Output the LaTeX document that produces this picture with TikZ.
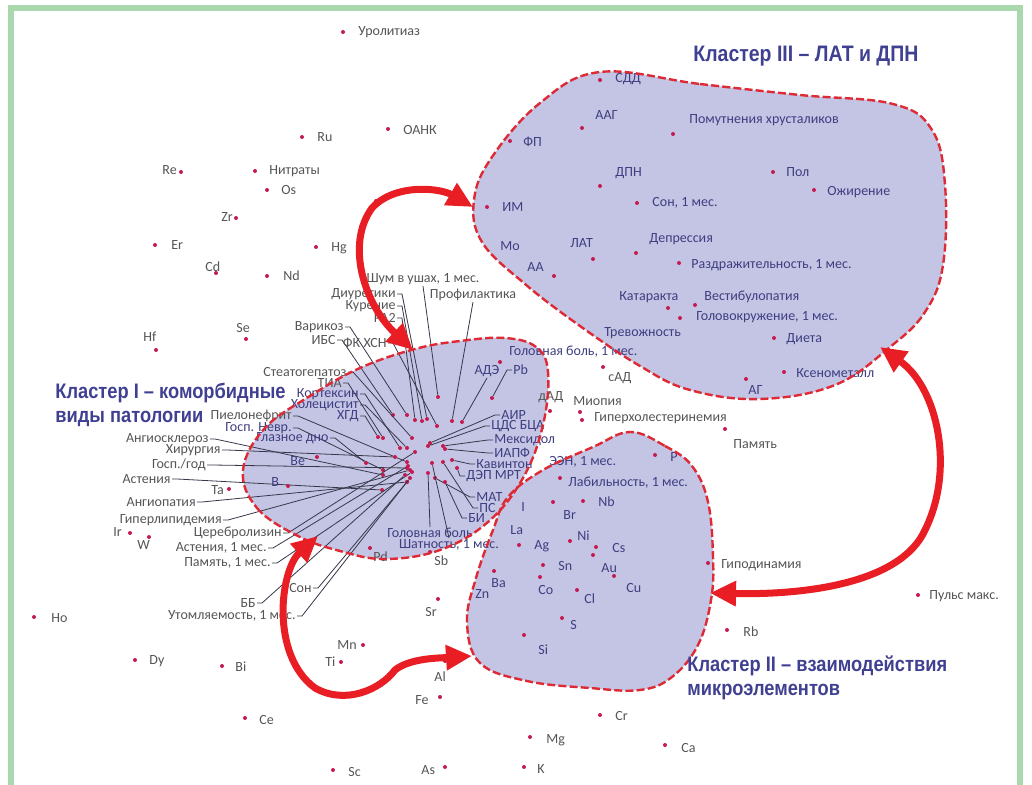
\documentclass[tikz,border=0pt]{standalone}
\usepackage{fontspec}
\setmainfont{Carlito}
\newfontfamily\clfont[FakeStretch=0.87]{Liberation Sans}
\usetikzlibrary{arrows.meta}
\definecolor{frx}{RGB}{168,216,172}
\definecolor{lvx}{RGB}{196,196,229}
\definecolor{brx}{RGB}{222,42,52}
\definecolor{rdx}{RGB}{232,30,36}
\definecolor{dtx}{RGB}{196,28,78}
\definecolor{gyx}{RGB}{85,85,85}
\definecolor{nvx}{RGB}{62,62,128}
\definecolor{ttx}{RGB}{64,64,146}
\definecolor{ldx}{RGB}{55,55,75}
\tikzset{
    pt/.style={circle,fill=dtx,inner sep=0pt,minimum size=2pt},
    lbl/.style={font=\fontsize{7}{8}\selectfont,inner sep=0.5pt,anchor=west},
    leader/.style={ldx,line width=0.4pt},
    blobfill/.style={fill=lvx},
    blobline/.style={brx,line width=1.2pt,dash pattern=on 4pt off 1.6pt},
    redarr/.style={rdx,line width=3.5pt,
        {Triangle[length=13pt,width=12pt]}-{Triangle[length=13pt,width=12pt]}},
    ttl/.style={anchor=north west,align=left,inner sep=0pt,text=ttx,
        font=\clfont\bfseries\fontsize{10.5}{12}\selectfont}
}
\newcommand\shpIII{plot[smooth cycle,tension=0.65] coordinates {(600,72) (700,84) (800,95) (893,104) (932,130) (945,185) (943,265) (925,312) (890,347) (835,385) (760,399) (690,390) (640,366) (580,326) (525,284) (482,242) (474,200) (492,157) (540,103)}}
\newcommand\shpI{plot[smooth cycle,tension=0.65] coordinates {(243,470) (257,508) (298,536) (340,551) (385,559) (440,550) (488,522) (523,478) (543,425) (548,372) (536,347) (505,338) (460,341) (415,349) (360,368) (310,396) (265,428)}}
\newcommand\shpII{plot[smooth cycle,tension=0.65] coordinates {(630,432) (665,446) (692,466) (708,502) (713,557) (711,600) (698,645) (672,677) (640,690) (590,688) (527,681) (480,663) (467,622) (476,578) (493,530) (508,497) (543,470) (593,447)}}
\begin{document}
\begin{tikzpicture}[x=0.5pt,y=-0.5pt]
    \useasboundingbox (0,0) rectangle (1032,785);
    \draw[frx,line width=3pt] (11,785) -- (11,8) -- (1020,8) -- (1020,785);
    \fill[blobfill] \shpIII;
    \fill[blobfill] \shpI;
    \fill[blobfill] \shpII;
    \foreach \tx/\lx/\ly/\px/\py/\cl [count=\i] in {
        Диуретики/397/294/427/419/gyx,
        Курение/397/306/422/421/gyx,
        РА2/397/318/415/420/gyx,
        Варикоз/345/327/407/415/gyx,
        ИБС/337/340/393/415/gyx,
        ФК ХСН/388/343/437/426/gyx,
        Стеатогепатоз/348/372/412/438/gyx,
        ТИА/343/383/383/438/gyx,
        Кортексин/360/394/400/448/nvx,
        Холецистит/360/405/407/448/nvx,
        ХГД/360/416/378/437/nvx,
        Пиелонефрит/293/416/407/462/gyx,
        {Госп. Невр.}/293/428/383/470/nvx,
        {Глазное дно}/330/438/366/463/nvx,
        Ангиосклероз/210/439/383/475/gyx,
        Хирургия/222/450/395/457/gyx,
        {Госп./год}/207/465/407/468/gyx,
        Астения/172/479/382/490/gyx,
        Ангиопатия/197/502/407/482/gyx,
        Гиперлипидемия/223/520/410/470/gyx,
        Церебролизин/283/533/415/452/gyx,
        {Астения, 1 мес.}/268/548/408/466/gyx,
        {Память, 1 мес.}/272/563/412/472/gyx,
        Сон/313/588/407/482/gyx,
        ББ/257/603/405/475/gyx,
        {Утомляемость, 1 мес.}/297/616/410/478/gyx}{
        \node[pt] (ld\i) at (\px,\py) {};
        \node[lbl,anchor=east,text=\cl] (lt\i) at (\lx,\ly) {\tx};
        \draw[leader] (lt\i.east) -- ++(5,0) -- (ld\i);
    }
    \foreach \tx/\lx/\ly/\px/\py/\cl [count=\i] in {
        Pb/512/370/492/398/nvx,
        АИР/500/415/430/443/nvx,
        {ЦДС БЦА}/490/426/428/446/nvx,
        Мексидол/493/440/443/446/nvx,
        ИАПФ/493/453/445/449/nvx,
        Кавинтон/475/464/452/460/nvx,
        {ДЭП МРТ}/465/476/457/468/nvx,
        МАТ/475/497/435/478/nvx,
        ПС/478/508/443/462/nvx,
        БИ/467/518/445/482/nvx}{
        \node[pt] (rd\i) at (\px,\py) {};
        \node[lbl,text=\cl] (rt\i) at (\lx,\ly) {\tx};
        \draw[leader] (rt\i.west) -- ++(-5,0) -- (rd\i);
    }
    \foreach \tx/\lx/\ly/\an/\px/\py/\cl [count=\i] in {
        {Шум в ушах, 1 мес.}/423/286/south/438/397/gyx,
        Профилактика/473/302/south/452/421/gyx,
        АДЭ/487/378/south/462/422/nvx,
        {Головная боль}/430/527/north/428/473/nvx,
        {Шатность, 1 мес.}/449/538/north/432/463/nvx}{
        \node[pt] (vd\i) at (\px,\py) {};
        \node[lbl,anchor=\an,text=\cl] (vt\i) at (\lx,\ly) {\tx};
        \draw[leader] (vt\i.\an) -- (vd\i);
    }
    \foreach \px/\py/\lx/\ly/\tx/\cl [count=\i] in {
        343/32/357/32/Уролитиаз/gyx,
        302/137/316/137/Ru/gyx,
        388/129/402/130/ОАНК/gyx,
        181/172/161/170/Re/gyx,
        255/171/268/171/Нитраты/gyx,
        267/190/280/190/Os/gyx,
        236/218/220/217/Zr/gyx,
        155/245/170/245/Er/gyx,
        316/247/330/248/Hg/gyx,
        216/273/204/267/Cd/gyx,
        267/276/282/276/Nd/gyx,
        156/350/142/337/Hf/gyx,
        246/339/235/328/Se/gyx,
        34/617/50/618/Ho/gyx,
        130/533/112/532/Ir/gyx,
        149/537/136/545/W/gyx,
        229/489/210/490/Ta/gyx,
        135/660/148/661/Dy/gyx,
        222/666/234/667/Bi/gyx,
        245/718/258/720/Ce/gyx,
        363/645/336/645/Mn/gyx,
        341/662/324/662/Ti/gyx,
        445/661/433/677/Al/gyx,
        440/697/414/700/Fe/gyx,
        333/770/347/772/Sc/gyx,
        445/767/420/770/As/gyx,
        438/599/424/612/Sr/gyx,
        430/552/433/561/Sb/gyx,
        370/548/372/557/Pd/gyx,
        530/737/545/740/Mg/gyx,
        524/767/536/769/K/gyx,
        600/715/614/716/Cr/gyx,
        665/745/680/748/Ca/gyx,
        727/630/742/632/Rb/gyx,
        918/595/928/596/Пульс макс./gyx,
        708/563/720/565/Гиподинамия/gyx,
        725/429/732/444/Память/gyx,
        580/412/572/401/Миопия/gyx,
        582/420/593/418/Гиперхолестеринемия/gyx,
        550/411/537/397/дАД/gyx,
        603/367/607/378/сАД/gyx,
        500/362/508/352/{Головная боль, 1 мес.}/nvx,
        746/379/747/390/АГ/nvx,
        784/372/795/373/Ксенометалл/nvx,
        600/80/614/79/СДД/nvx,
        582/128/594/115/ААГ/nvx,
        510/141/522/142/ФП/nvx,
        673/134/688/120/Помутнения хрусталиков/nvx,
        600/186/614/173/ДПН/nvx,
        773/172/785/172/Пол/nvx,
        814/190/826/192/Ожирение/nvx,
        487/207/501/207/ИМ/nvx,
        637/203/651/203/{Сон, 1 мес.}/nvx,
        593/259/569/243/ЛАТ/nvx,
        636/253/648/239/Депрессия/nvx,
        554/276/526/267/АА/nvx,
        679/263/690/265/{Раздражительность, 1 мес.}/nvx,
        668/308/618/297/Катаракта/nvx,
        695/305/703/297/Вестибулопатия/nvx,
        680/318/695/317/{Головокружение, 1 мес.}/nvx,
        774/338/785/339/Диета/nvx,
        655/455/669/457/P/nvx,
        560/478/567/483/{Лабильность, 1 мес.}/nvx,
        553/502/562/515/Br/nvx,
        583/501/597/502/Nb/nvx,
        519/545/533/546/Ag/nvx,
        570/541/576/536/Ni/nvx,
        596/547/611/548/Cs/nvx,
        593/555/600/568/Au/nvx,
        614/576/625/588/Cu/nvx,
        543/565/557/566/Sn/nvx,
        494/571/490/583/Ba/nvx,
        540/577/537/590/Co/nvx,
        577/590/583/599/Cl/nvx,
        562/618/569/625/S/nvx,
        524/635/537/650/Si/nvx,
        317/457/289/461/Be/nvx,
        288/486/270/482/B/nvx}{
        \node[pt] (p\i) at (\px,\py) {};
        \node[lbl,text=\cl] (t\i) at (\lx,\ly) {\tx};
    }
    \foreach \lx/\ly/\tx [count=\i] in {
        499/246/Mo,
        603/333/Тревожность,
        548/462/{ЭЭН, 1 мес.},
        520/507/I,
        509/530/La,
        474/594/Zn}{
        \node[lbl,text=nvx] (n\i) at (\lx,\ly) {\tx};
    }
    \node[pt] (b1) at (376,201) {};
    \draw[blobline] \shpIII;
    \draw[blobline] \shpI;
    \draw[blobline] \shpII;
    \coordinate (a1s) at (413,350);
    \coordinate (a1m) at (372,208);
    \coordinate (a1e) at (473,207);
    \coordinate (a2s) at (880,347);
    \coordinate (a2m) at (925,530);
    \coordinate (a2e) at (710,593);
    \coordinate (a3s) at (318,536);
    \coordinate (a3m) at (315,688);
    \coordinate (a3k) at (395,670);
    \coordinate (a3e) at (472,656);
    \draw[redarr] (a1s) .. controls (365,305) and (345,245) .. (a1m)
        .. controls (395,183) and (440,188) .. (a1e);
    \draw[redarr] (a2s) .. controls (938,388) and (955,470) .. (a2m)
        .. controls (900,585) and (800,595) .. (a2e);
    \draw[redarr] (a3s) .. controls (280,570) and (270,655) .. (a3m)
        .. controls (345,705) and (380,690) .. (a3k)
        .. controls (410,658) and (440,658) .. (a3e);
    \node[ttl,font=\clfont\bfseries\fontsize{11.2}{12}\selectfont] (c3) at (693,46) {Кластер III – ЛАТ и ДПН};
    \node[ttl] (c1) at (55,383) {Кластер I – коморбидные\\виды патологии};
    \node[ttl] (c2) at (687,655) {Кластер II – взаимодействия\\микроэлементов};
\end{tikzpicture}
\end{document}
